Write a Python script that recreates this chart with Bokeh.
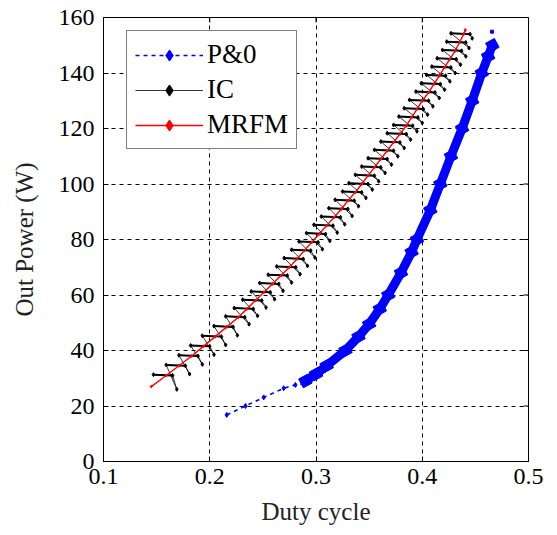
import math
from bokeh.plotting import figure
from bokeh.models import Legend, LegendItem, Range1d, FixedTicker
from bokeh.embed import file_html
from bokeh.resources import INLINE

# ---------------- data ----------------
x_ticks = [0.1, 0.2, 0.3, 0.4, 0.5]
y_ticks = [0, 20, 40, 60, 80, 100, 120, 140, 160]
x_min, x_max = 0.1, 0.5
y_min, y_max = 0, 160

# P&O: thin dashed start-up part
po_start_x = [0.216, 0.2336, 0.2508, 0.2696, 0.2806, 0.288, 0.29]
po_start_y = [16.8, 20.0, 23.1, 26.4, 27.6, 27.9, 28.5]
# P&O: dense oscillating band (centre)
po_band_x = [0.29, 0.30, 0.31, 0.3277, 0.34, 0.35, 0.36, 0.368, 0.38, 0.39, 0.395,
             0.4076, 0.417, 0.427, 0.4375, 0.447, 0.456, 0.462, 0.466]
po_band_y = [29.0, 31.5, 34.5, 40.0, 45.0, 49.5, 55.0, 60.0, 68.0, 75.5, 80.0,
             90.6, 100.0, 110.0, 120.0, 130.0, 140.0, 146.0, 150.0]
po_top_x = [0.4657]
po_top_y = [154.9]

# IC: zig-zag around the optimum (left end, right end, hook end) per step
ic_x = [0.147, 0.165, 0.169, 0.159, 0.177, 0.181, 0.171, 0.189, 0.193, 0.182, 0.200, 0.204,
        0.193, 0.211, 0.215, 0.204, 0.222, 0.226, 0.215, 0.233, 0.237, 0.223, 0.241, 0.245,
        0.231, 0.249, 0.253, 0.239, 0.257, 0.261, 0.247, 0.265, 0.269, 0.255, 0.273, 0.277,
        0.263, 0.281, 0.285, 0.270, 0.288, 0.292, 0.277, 0.295, 0.299, 0.284, 0.302, 0.306,
        0.291, 0.309, 0.313, 0.298, 0.316, 0.320, 0.305, 0.323, 0.327, 0.312, 0.330, 0.334,
        0.318, 0.336, 0.340, 0.325, 0.343, 0.347, 0.331, 0.349, 0.353, 0.337, 0.355, 0.359,
        0.343, 0.361, 0.365, 0.349, 0.367, 0.371, 0.355, 0.373, 0.377, 0.361, 0.379, 0.383,
        0.367, 0.385, 0.389, 0.373, 0.391, 0.395, 0.378, 0.396, 0.400, 0.383, 0.401, 0.405,
        0.388, 0.406, 0.410, 0.394, 0.412, 0.416, 0.399, 0.417, 0.421, 0.404, 0.422, 0.426,
        0.409, 0.427, 0.431, 0.414, 0.432, 0.436, 0.419, 0.437, 0.441, 0.423, 0.441, 0.444,
        0.427, 0.445, 0.447]
ic_y = [31.3, 31.0, 26.0, 34.8, 34.5, 31.5, 38.3, 38.0, 35.0, 41.8, 41.5, 38.5,
        45.3, 45.0, 42.0, 48.8, 48.5, 45.5, 52.3, 52.0, 49.5, 55.3, 55.0, 52.5,
        58.3, 58.0, 55.5, 61.3, 61.0, 58.5, 64.3, 64.0, 61.5, 67.3, 67.0, 64.5,
        70.3, 70.0, 67.5, 73.3, 73.0, 70.5, 76.3, 76.0, 73.5, 79.3, 79.0, 76.5,
        82.3, 82.0, 79.5, 85.3, 85.0, 82.5, 88.3, 88.0, 85.5, 91.3, 91.0, 88.5,
        94.3, 94.0, 92.0, 97.3, 97.0, 95.0, 100.3, 100.0, 98.0, 103.3, 103.0, 101.0,
        106.3, 106.0, 104.0, 109.3, 109.0, 107.0, 112.3, 112.0, 110.0, 115.3, 115.0, 113.0,
        118.3, 118.0, 116.0, 121.3, 121.0, 119.0, 124.3, 124.0, 122.0, 127.3, 127.0, 125.0,
        130.3, 130.0, 128.0, 133.3, 133.0, 131.0, 136.3, 136.0, 134.0, 139.3, 139.0, 137.0,
        142.3, 142.0, 140.0, 145.3, 145.0, 143.0, 148.3, 148.0, 146.0, 151.3, 151.0, 149.0,
        154.3, 154.0, 152.5]

# MRFM: smooth track of the optimum
mrfm_x = [0.145, 0.159, 0.171, 0.183, 0.194, 0.205, 0.216, 0.227, 0.235, 0.243, 0.251,
          0.259, 0.267, 0.275, 0.282, 0.289, 0.296, 0.303, 0.310, 0.317, 0.324, 0.330,
          0.337, 0.343, 0.349, 0.355, 0.361, 0.367, 0.373, 0.379, 0.385, 0.390, 0.395,
          0.400, 0.406, 0.411, 0.416, 0.421, 0.426, 0.431, 0.435, 0.439, 0.4405]
mrfm_y = [27.0, 31.0, 34.5, 38.0, 41.5, 45.0, 48.5, 52.0, 55.0, 58.0, 61.0,
          64.0, 67.0, 70.0, 73.0, 76.0, 79.0, 82.0, 85.0, 88.0, 91.0, 94.0,
          97.0, 100.0, 103.0, 106.0, 109.0, 112.0, 115.0, 118.0, 121.0, 124.0, 127.0,
          130.0, 133.0, 136.0, 139.0, 142.0, 145.0, 148.0, 151.0, 154.0, 155.5]

FONT = "Liberation Serif"

p = figure(frame_width=425, frame_height=444, width=557, height=535,
           x_range=Range1d(x_min, x_max), y_range=Range1d(y_min, y_max),
           output_backend="svg", toolbar_location=None,
           min_border_left=103, min_border_right=29, min_border_top=17, min_border_bottom=74,
           background_fill_color="white", border_fill_color="white")

p.outline_line_color = "black"
p.outline_line_width = 1

p.xaxis.ticker = FixedTicker(ticks=x_ticks)
p.yaxis.ticker = FixedTicker(ticks=y_ticks)
for ax in (p.xaxis, p.yaxis):
    ax.axis_line_color = "black"
    ax.major_tick_in = 5
    ax.major_tick_out = 0
    ax.minor_tick_line_color = None
    ax.major_tick_line_color = "black"
    ax.major_label_text_font = FONT
    ax.major_label_text_font_size = "24px"
    ax.major_label_text_color = "black"
    ax.axis_label_text_font = FONT
    ax.axis_label_text_font_size = "25px"
    ax.axis_label_text_font_style = "normal"
    ax.axis_label_text_color = "#222222"
p.xaxis.axis_label = "Duty cycle"
p.yaxis.axis_label = "Out Power (W)"
p.xaxis.major_label_standoff = 7
p.yaxis.major_label_standoff = 9
p.xaxis.axis_label_standoff = 11
p.yaxis.axis_label_standoff = 18

p.grid.grid_line_color = "black"
p.grid.grid_line_dash = "4 4"
p.grid.grid_line_width = 1

# inward ticks on the top and right edges of the box
p.scatter(x_ticks, [y_max] * len(x_ticks), marker="dash", angle=math.pi / 2, size=10,
          line_color="black", line_width=1)
p.scatter([x_max] * len(y_ticks), y_ticks, marker="dash", size=10,
          line_color="black", line_width=1)

BLUE = "#0000ff"
# P&O
po_dash = p.line(po_start_x, po_start_y, line_color=BLUE, line_width=1.6, line_dash="4 4")
po_dash_m = p.scatter(po_start_x, po_start_y, marker="diamond", size=5, color=BLUE)
p.line(po_band_x, po_band_y, line_color=BLUE, line_width=9, line_join="round", line_cap="round")
p.scatter(po_band_x, po_band_y, marker="square", size=10, color=BLUE, angle=0.5)
p.scatter(po_top_x, po_top_y, marker="square", size=3, color=BLUE)

# IC
ic_line = p.line(ic_x, ic_y, line_color="black", line_width=0.8)
p.segment(x0=ic_x[0::3], y0=ic_y[0::3], x1=ic_x[1::3], y1=ic_y[1::3],
          line_color="black", line_width=2)
ic_m = p.scatter(ic_x, ic_y, marker="diamond", size=4, color="black")

# MRFM
mr_line = p.line(mrfm_x, mrfm_y, line_color="red", line_width=1.4)
mr_m = p.scatter(mrfm_x, mrfm_y, marker="diamond", size=3, color="red")

legend = Legend(items=[
    LegendItem(label="P&0", renderers=[po_dash, po_dash_m]),
    LegendItem(label="IC", renderers=[ic_line, ic_m]),
    LegendItem(label="MRFM", renderers=[mr_line, mr_m]),
], location=(23, 312))
legend.label_text_font = FONT
legend.label_text_font_size = "27px"
legend.label_text_color = "black"
legend.glyph_width = 68
legend.glyph_height = 28
legend.label_height = 28
legend.label_standoff = 4
legend.spacing = 4
legend.padding = 8
legend.margin = 0
legend.border_line_color = "black"
legend.border_line_width = 1
legend.background_fill_alpha = 1
p.add_layout(legend)

open("out.html", "w").write(file_html(p, INLINE))
